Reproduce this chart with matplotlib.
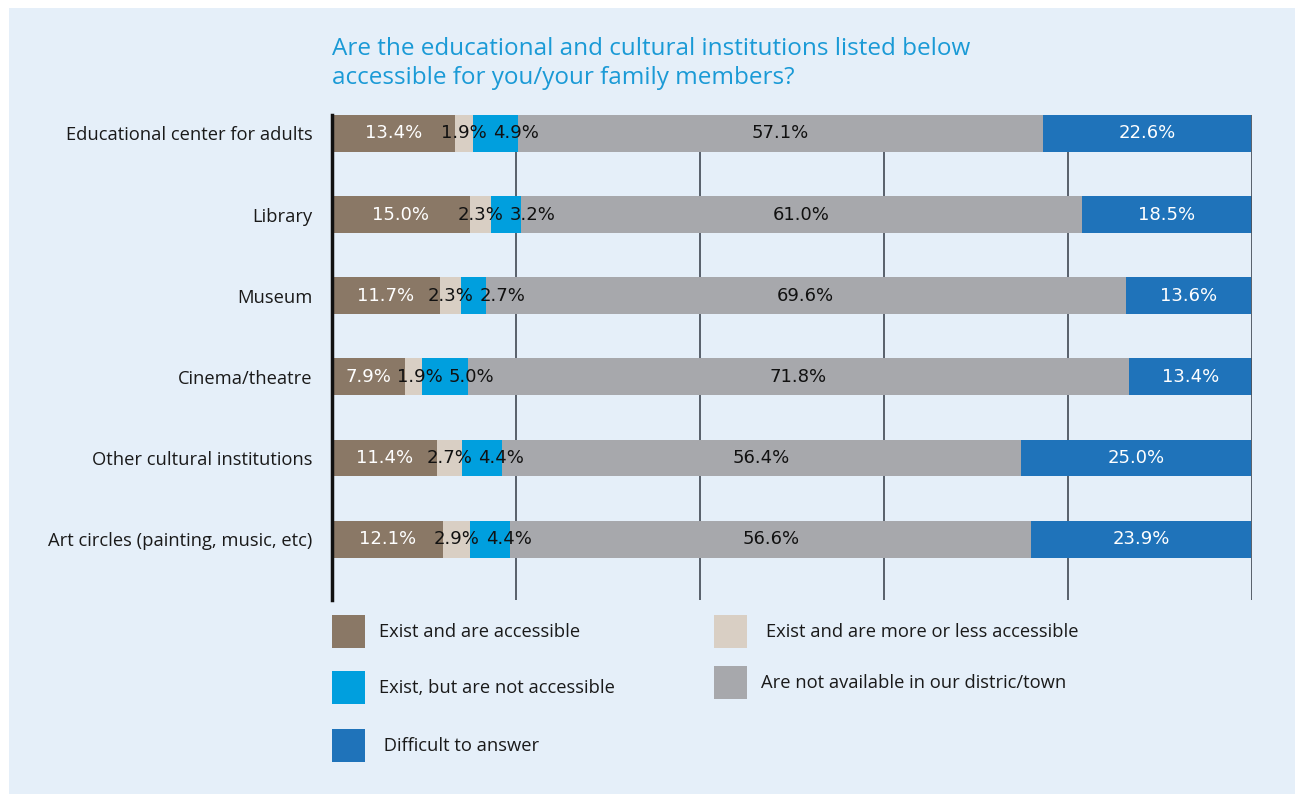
import matplotlib
matplotlib.use("Agg")
import matplotlib.pyplot as plt
from matplotlib.patches import Rectangle

# Survey data (percent of respondents)
categorias = [
    "Educational center for adults",
    "Library",
    "Museum",
    "Cinema/theatre",
    "Other cultural institutions",
    "Art circles (painting, music, etc)",
]
accesibles = [13.4, 15.0, 11.7, 7.9, 11.4, 12.1]
mas_o_menos = [1.9, 2.3, 2.3, 1.9, 2.7, 2.9]
no_accesibles = [4.9, 3.2, 2.7, 5.0, 4.4, 4.4]
no_disponibles = [57.1, 61.0, 69.6, 71.8, 56.4, 56.6]
dificil = [22.6, 18.5, 13.6, 13.4, 25.0, 23.9]

series = [accesibles, mas_o_menos, no_accesibles, no_disponibles, dificil]
nombres = [
    "Exist and are accessible",
    "Exist and are more or less accessible",
    "Exist, but are not accessible",
    "Are not available in our distric/town",
    " Difficult to answer",
]
colores = ["#8a7866", "#d9cfc4", "#009fde", "#a7a8ac", "#1f73ba"]
color_texto = ["white", "#111111", "#111111", "#111111", "white"]

FONDO = "#e5eff9"
W, H = 1295, 794

fig = plt.figure(figsize=(W / 100, H / 100), dpi=100)
fig.patch.set_facecolor("white")
fig.patches.append(Rectangle((9 / W, 0), 1, 1 - 8 / H, transform=fig.transFigure,
                             facecolor=FONDO, edgecolor="none", zorder=-10))

# axes box in pixels: left 332, right 1252, top 115, bottom 600
ax = fig.add_axes([332 / W, 1 - 600 / H, 920 / W, 485 / H])
ax.set_facecolor("none")
ax.set_xlim(0, 100)
ax.set_ylim(5.75, -0.228)

y = list(range(len(categorias)))
izq = [0.0] * len(categorias)
textos = []
for vals, col, tc in zip(series, colores, color_texto):
    ax.barh(y, vals, left=izq, height=0.455, color=col, edgecolor="none", zorder=2)
    fila = []
    for i, v in enumerate(vals):
        t = ax.text(izq[i] + v / 2, i, f"{v:.1f}%", ha="center", va="center",
                    fontsize=13, color=tc, family="DejaVu Sans", zorder=3)
        fila.append(t)
    textos.append(fila)
    izq = [a + b for a, b in zip(izq, vals)]

# keep the labels of the thin segments from running into each other
fig.canvas.draw()
r = fig.canvas.get_renderer()
px_unit = 920 / 100
for i in range(len(categorias)):
    borde = None
    for fila in textos:
        t = fila[i]
        bb = t.get_window_extent(r)
        if borde is not None and bb.x0 < borde + 6:
            dx = (borde + 6 - bb.x0) / px_unit
            t.set_x(t.get_position()[0] + dx)
            bb = t.get_window_extent(r)
        borde = bb.x1

for x in [20, 40, 60, 80]:
    ax.axvline(x, color="#4d5560", lw=1.3, zorder=1)
ax.axvline(100, color="#4d5560", lw=1.3, zorder=4)

for s in ["top", "right", "bottom"]:
    ax.spines[s].set_visible(False)
ax.spines["left"].set_linewidth(2.5)
ax.spines["left"].set_color("#111111")
ax.set_xticks([])
ax.set_yticks(y)
ax.set_yticklabels(categorias, family="Open Sans", fontsize=13.2, color="#1a1a1a")
ax.tick_params(axis="y", length=0, pad=14)

fig.text(332 / W, 1 - 37 / H,
         "Are the educational and cultural institutions listed below\n"
         "accessible for you/your family members?",
         ha="left", va="top", fontsize=17.5, color="#1a9ad6", family="Open Sans",
         linespacing=1.3)

# legend, drawn by hand in two columns
entradas = [
    (0, 332, 632, 379),
    (1, 714, 632, 766),
    (2, 332, 688, 379),
    (3, 714, 683, 761),
    (4, 332, 746, 379),
]
for k, xs, yc, xt in entradas:
    fig.patches.append(Rectangle((xs / W, 1 - (yc + 16) / H), 33 / W, 33 / H,
                                 transform=fig.transFigure, facecolor=colores[k],
                                 edgecolor="none", zorder=2))
    fig.text(xt / W, 1 - yc / H, nombres[k], ha="left", va="center",
             fontsize=13.2, color="#1a1a1a", family="Open Sans")

fig.savefig("out.png", dpi=100, facecolor=fig.get_facecolor())
